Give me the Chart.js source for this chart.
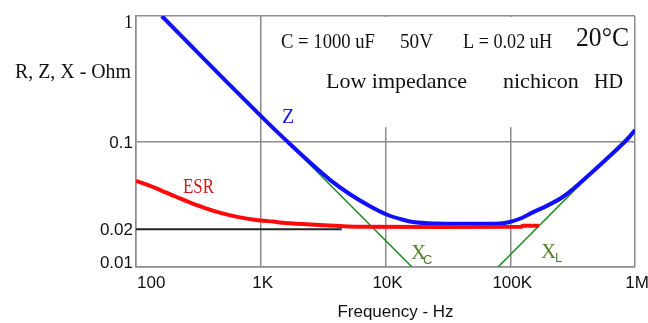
<!DOCTYPE html>
<html>
<head>
<meta charset="utf-8">
<script src="https://cdn.jsdelivr.net/npm/chart.js@4.4.1/dist/chart.umd.min.js"></script>
<style>
  html, body { margin: 0; padding: 0; background: #fff; }
  #wrap { width: 648px; height: 323px; }
</style>
</head>
<body>
<div id="wrap"><canvas id="c" width="648" height="323"></canvas></div>
<script>
// ---- data ----
const xTicks = [100, 1000, 10000, 100000, 1000000];
const xTickLabels = ['100', '1K', '10K', '100K', '1M'];
const yTicks = [0.01, 0.02, 0.1, 1];
const yTickLabels = ['0.01', '0.02', '0.1', '1'];

const zFreq = [161, 500, 1000, 1400, 1716, 2483, 3589, 5190, 7515, 10200, 13800, 16700, 25000, 40000, 75000, 90000, 105000, 125000, 150000, 196000, 265000, 362000, 493000, 667000, 858000, 1000000];
const zOhm  = [1.0, 0.318, 0.160, 0.1155, 0.0955, 0.068, 0.0495, 0.038, 0.0305, 0.0262, 0.0238, 0.0228, 0.0222, 0.0221, 0.0221, 0.0224, 0.0232, 0.0247, 0.0271, 0.0307, 0.0363, 0.0467, 0.0615, 0.081, 0.1028, 0.1235];

const esrFreq = [100, 145, 209, 303, 438, 634, 916, 1248, 1716, 2986, 6252, 123000, 125000, 170000];
const esrOhm  = [0.0485, 0.0424, 0.0363, 0.0312, 0.0276, 0.0252, 0.0237, 0.0230, 0.0223, 0.0216, 0.0209, 0.0209, 0.0213, 0.0213];

const refFreq = [100, 4460];
const refOhm  = [0.02, 0.02];

const xcFreq = [161, 16300];
const xcOhm  = [1.0, 0.01];

const xlFreq = [79800, 1000000];
const xlOhm  = [0.01, 0.125];

const pts = (fx, fy) => fx.map((v, i) => ({ x: v, y: fy[i] }));

const SANS = "'Liberation Sans', Arial, sans-serif";
const SERIF = "'Liberation Serif', 'Times New Roman', serif";
const GRID = '#8c8c8c';

const overlay = {
  id: 'overlay',
  beforeDatasetsDraw(chart) {
    const { ctx, chartArea: a, scales: { x, y } } = chart;
    ctx.save();
    ctx.fillStyle = '#ffffff';
    const x0 = x.getPixelForValue(1500);
    const y1 = y.getPixelForValue(0.13);
    ctx.fillRect(x0, a.top + 1, a.right - 1 - x0, y1 - a.top - 1);
    ctx.restore();
  },
  afterDraw(chart) {
    const { ctx, chartArea: a, scales: { x, y } } = chart;
    ctx.save();
    ctx.textBaseline = 'alphabetic';
    // y tick labels
    ctx.fillStyle = '#111';
    ctx.textAlign = 'right';
    yTicks.forEach((v, i) => {
      const py = y.getPixelForValue(v);
      const base = Math.min(Math.max(py + 6, a.top + 12), a.bottom + 1);
      ctx.font = (v === 1) ? ('18px ' + SERIF) : ('17px ' + SANS);
      ctx.fillText(yTickLabels[i], a.left - 3, base);
    });
    // x tick labels
    ctx.font = '17px ' + SANS;
    xTicks.forEach((v, i) => {
      const px = x.getPixelForValue(v);
      if (i === 0) { ctx.textAlign = 'left'; ctx.fillText(xTickLabels[i], px + 1, a.bottom + 21); }
      else { ctx.textAlign = 'center'; ctx.fillText(xTickLabels[i], px + 2, a.bottom + 21); }
    });
    // axis titles
    ctx.textAlign = 'center';
    ctx.font = '17px ' + SANS;
    ctx.fillText('Frequency - Hz', (a.left + a.right) / 2 + 10, a.bottom + 50);
    ctx.textAlign = 'left';
    ctx.font = '20px ' + SERIF;
    ctx.fillText('R, Z, X - Ohm', 15, 78, 116);

    // annotations
    ctx.font = '22px ' + SERIF;
    ctx.fillText('C = 1000 uF', 281, 48, 94);
    ctx.fillText('50V', 400, 48, 33);
    ctx.fillText('L = 0.02 uH', 463, 48, 89);
    ctx.font = '27px ' + SERIF;
    ctx.fillText('20\u00B0C', 576, 46, 53);
    ctx.font = '22px ' + SERIF;
    ctx.fillText('Low impedance', 326, 88, 142);
    ctx.fillText('nichicon', 503, 88, 79);
    ctx.fillText('HD', 594, 88, 29);

    ctx.fillStyle = '#1a1aff';
    ctx.font = '20px ' + SERIF;
    ctx.fillText('Z', 282, 123);
    ctx.fillStyle = '#d01818';
    ctx.fillText('ESR', 183, 193, 31);

    ctx.fillStyle = '#55802e';
    ctx.font = '21px ' + SERIF;
    ctx.fillText('X', 411, 259);
    ctx.fillText('X', 541, 258);
    ctx.font = '13px ' + SANS;
    ctx.fillText('C', 423, 264);
    ctx.fillText('L', 555, 262);
    ctx.restore();
  }
};

new Chart(document.getElementById('c'), {
  type: 'line',
  data: {
    datasets: [
      { label: 'ESR', data: pts(esrFreq, esrOhm), borderColor: '#ff0a0a', borderWidth: 4, pointRadius: 0, tension: 0.3, fill: false },
      { label: 'Z', data: pts(zFreq, zOhm), borderColor: '#1010ff', borderWidth: 4, pointRadius: 0, cubicInterpolationMode: 'monotone', fill: false },
      { label: 'ref', data: pts(refFreq, refOhm), borderColor: '#222222', borderWidth: 2, pointRadius: 0, fill: false },
      { label: 'Xc', data: pts(xcFreq, xcOhm), borderColor: '#1f8a1f', borderWidth: 1.5, pointRadius: 0, fill: false },
      { label: 'XL', data: pts(xlFreq, xlOhm), borderColor: '#1f8a1f', borderWidth: 1.5, pointRadius: 0, fill: false }
    ]
  },
  options: {
    responsive: false,
    animation: false,
    parsing: true,
    layout: { padding: { top: 16, right: 13, left: 0, bottom: 0 } },
    plugins: { legend: { display: false }, tooltip: { enabled: false } },
    scales: {
      x: {
        type: 'logarithmic', min: 100, max: 1000000,
        afterBuildTicks: (s) => { s.ticks = xTicks.map(v => ({ value: v })); },
        afterFit: (s) => { s.height = 56; },
        ticks: { display: false },
        grid: { color: GRID, lineWidth: 1.5, drawTicks: false },
        border: { color: GRID, width: 1.5 }
      },
      y: {
        type: 'logarithmic', min: 0.01, max: 1,
        afterBuildTicks: (s) => { s.ticks = yTicks.map(v => ({ value: v })); },
        afterFit: (s) => { s.width = 136; },
        ticks: { display: false },
        grid: { color: (c) => (c.tick && c.tick.value === 0.02) ? 'rgba(0,0,0,0)' : GRID, lineWidth: 1.5, drawTicks: false },
        border: { color: GRID, width: 1.5 }
      }
    }
  },
  plugins: [overlay]
});
</script>
</body>
</html>
